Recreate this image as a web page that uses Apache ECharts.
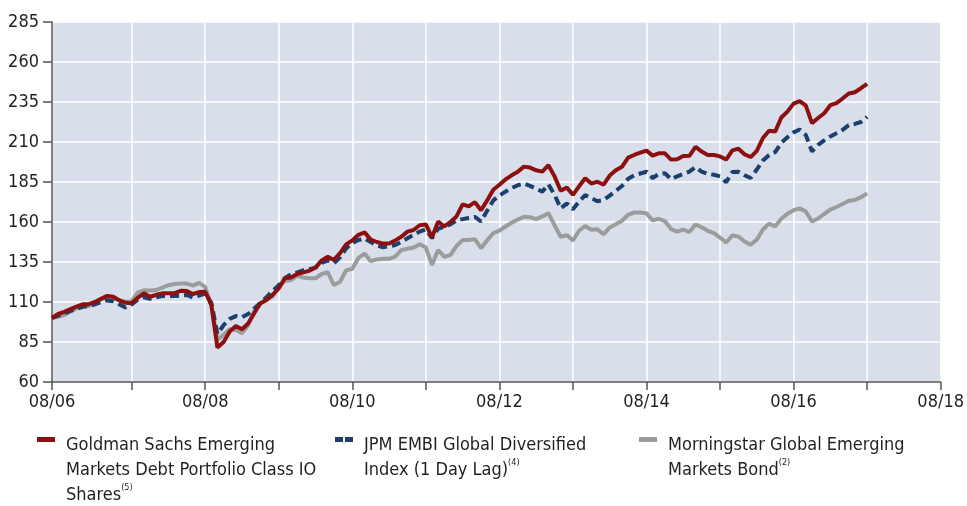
<!DOCTYPE html>
<html>
<head>
<meta charset="utf-8">
<script src="https://cdn.jsdelivr.net/npm/echarts@6/dist/echarts.min.js"></script>
<style>
html,body{margin:0;padding:0;background:#fff;}
#chart{width:967px;height:506px;}
</style>
</head>
<body>
<div id="chart"></div>
<script>
// Monthly index values, month 0 = start of series (labelled 08/06)
const goldmanSachs = [
100,102.5,103.8,105.5,107.1,108.6,108.6,110,112,113.8,113.3,111,109.5,109.2,112.7,115.4,113.3,114.5,115.4,115.4,
115.5,117,116.8,115,116.2,116.4,108,81.5,85,91.5,95,93,96.5,103,109.2,111.2,114.5,118.5,124.8,125.3,
127.5,128.5,129.5,131.5,136,138.3,136.3,140.5,146,148.5,152,153.5,149,147.5,146.5,146.5,148.5,150.8,154,155,
158,158.5,150.4,160.2,157.2,160,163.5,171,169.8,172.4,167.3,173.5,180.2,183.3,186.6,189.2,191.4,194.6,194,192.3,
191.5,195.5,188.5,179.5,181.5,177,182.3,187.3,184,185.2,183.3,189,192.3,194.5,200.2,201.9,203.3,204.6,201.5,202.9,
202.9,199,199.2,201.2,201.4,207,204,201.9,201.9,201,199,204.8,205.8,202.3,200.6,204.5,212.5,217,216.5,225.3,
229,234,235.6,232.7,221.8,225,228,233,234.3,237.2,240.3,241.1,243.6,246.3
];
const jpmEmbi = [
100,101.5,102.8,104.5,105.5,107,107.5,108.5,110,111,110.5,108.5,106.5,108.5,111.5,113,112,113,113.7,113.7,
113.7,114,114.4,112.8,114,115.2,109.5,90,95.5,99.5,101.2,100.5,102.5,106,109.5,113,117,120.5,125,127.3,
128.5,129.8,130.5,131.5,134.5,136,134.3,138,143.5,146.8,148.7,149.8,147.5,145.3,144.2,144.8,145.6,147.5,149.8,152,
154,155.4,149.9,155.8,157,158.5,161,161.8,162.5,163.2,160.3,167,173.5,176.5,179,181.2,183,184,182.6,180.8,
179,183.5,177,168.5,171.6,168,172.8,176.8,175,173,173.7,176.5,179.5,182.5,187,189.2,190.3,191.4,187.5,190,
190.5,186.8,188.5,190,191.5,194.3,191.5,190.1,189.5,188.5,184.8,191.2,191.4,189.2,187.5,192.8,198.5,201.8,203.7,209.5,
213,216,217.8,214.4,204.1,208.2,211,213.5,215.5,217.6,220.5,221.3,222.5,225.7
];
const morningstar = [
100,100.8,101.9,104,106,107,107.5,109.5,111.5,112.7,112.3,111,110.2,110.5,116,117.3,117.2,117.5,119,120.5,
121.3,121.6,121.5,120.2,122,119.5,108,86.5,89.5,93,92.5,90.5,95.5,104.5,108.8,111.5,113.5,120,123.1,123.7,
126.5,125.3,124.8,124.8,127.5,128.6,120.6,122.7,129.8,130.8,137.5,140.3,135.5,136.6,137,137,138.3,142.5,143.3,144.1,
146.1,144,133.2,142.5,138.3,139.3,145,148.7,148.7,149.3,143.6,148.5,153,154.6,157.2,159.5,161.5,163.3,163,161.8,
163.5,165.5,158,150.8,151.8,148.4,154.5,157.5,155.2,155.4,152.3,156.6,158.6,160.8,164.5,166,166,165.5,161,162,
160.6,155.6,154,155.3,153.7,158.4,156.7,154.5,153,150.3,147.2,151.6,150.9,147.8,145.8,149,155.3,159,157.3,162,
165.2,167.4,168.5,166.6,160.3,162.2,165,167.7,169.4,171.3,173.3,173.8,175.5,177.9
];
// x-axis ticks (month index) and labels
const xTickMonths = [0,13,25,37,49,61,73,85,97,109,121,133,145];
const xLabelMonths = [0,25,49,73,97,121,145];
const xLabels = ['08/06','08/08','08/10','08/12','08/14','08/16','08/18'];
const seriesNames = [
  'Goldman Sachs Emerging Markets Debt Portfolio Class IO Shares',
  'JPM EMBI Global Diversified Index (1 Day Lag)',
  'Morningstar Global Emerging Markets Bond'
];

const FONT = '"Liberation Sans Narrow", "DejaVu Sans Condensed", "Liberation Sans", sans-serif';
const RED = '#8c1010', NAVY = '#1b3f6e', GRAY = '#9c9c9c';
const toPts = arr => arr.map((v, i) => [i, v]);

const chart = echarts.init(document.getElementById('chart'), null, {renderer: 'canvas'});
const legendText = {fontFamily: FONT, fontSize: 18, color: '#231f20', lineHeight: 25,
  rich: {sup: {fontFamily: FONT, fontSize: 9, color: '#231f20', verticalAlign: 'top', lineHeight: 25, padding: [0,0,8,0]}}};

chart.setOption({
  animation: false,
  grid: {left: 52, right: 22, top: 22, bottom: 124, show: true, backgroundColor: '#d9dfea', borderWidth: 0},
  legend: [
    {data: [seriesNames[0]], left: 37, top: 371, padding: 0, selectedMode: false, itemWidth: 18, itemHeight: 5, itemGap: 0,
     icon: 'rect', formatter: () => 'Goldman Sachs Emerging\nMarkets Debt Portfolio Class IO\nShares{sup|(5)}',
     textStyle: Object.assign({}, legendText, {padding: [62, 0, 0, 6]})},
    {data: [seriesNames[1]], left: 335, top: 396, padding: 0, selectedMode: false, itemWidth: 18, itemHeight: 5, itemGap: 0,
     icon: 'path://M0,0h8v5h-8z M10,0h8v5h-8z', formatter: () => 'JPM EMBI Global Diversified\nIndex (1 Day Lag){sup|(4)}',
     textStyle: Object.assign({}, legendText, {padding: [37, 0, 0, 6]})},
    {data: [seriesNames[2]], left: 639, top: 396, padding: 0, selectedMode: false, itemWidth: 18, itemHeight: 5, itemGap: 0,
     icon: 'rect', formatter: () => 'Morningstar Global Emerging\nMarkets Bond{sup|(2)}',
     textStyle: Object.assign({}, legendText, {padding: [37, 0, 0, 6]})}
  ],
  xAxis: {
    type: 'value', min: 0, max: 145,
    axisLine: {show: true, lineStyle: {color: '#555', width: 1.5}},
    axisTick: {show: true, customValues: xTickMonths, length: 8, lineStyle: {color: '#555', width: 1.5}},
    axisLabel: {customValues: xLabelMonths, margin: 11, fontFamily: FONT, fontSize: 18, color: '#231f20',
      formatter: v => xLabels[xLabelMonths.indexOf(v)] || ''},
    splitLine: {show: true, lineStyle: {color: '#ffffff', width: 1.5}}
  },
  yAxis: {
    type: 'value', min: 60, max: 285, interval: 25,
    axisLine: {show: true, lineStyle: {color: '#555', width: 1.5}},
    axisTick: {show: true, length: 9, lineStyle: {color: '#555', width: 1.5}},
    axisLabel: {margin: 13, fontFamily: FONT, fontSize: 18, color: '#231f20'},
    splitLine: {show: true, lineStyle: {color: '#ffffff', width: 1.5}}
  },
  series: [
    {name: seriesNames[2], type: 'line', data: toPts(morningstar), showSymbol: false, z: 2,
     lineStyle: {color: GRAY, width: 4}, itemStyle: {color: GRAY}},
    {name: seriesNames[1], type: 'line', data: toPts(jpmEmbi), showSymbol: false, z: 3,
     lineStyle: {color: NAVY, width: 4, type: [9, 5]}, itemStyle: {color: NAVY}},
    {name: seriesNames[0], type: 'line', data: toPts(goldmanSachs), showSymbol: false, z: 4,
     lineStyle: {color: RED, width: 4}, itemStyle: {color: RED}}
  ]
});
</script>
</body>
</html>
